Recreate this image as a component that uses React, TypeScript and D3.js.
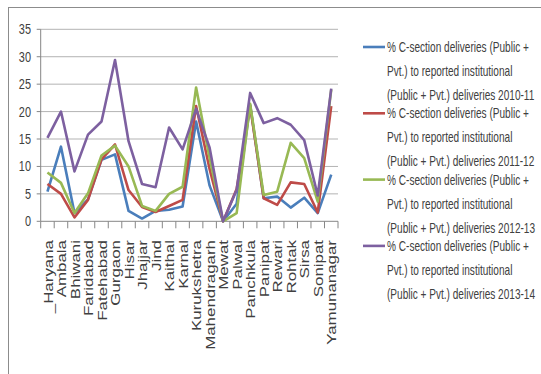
import React from "react";
import * as d3 from "d3";

const categories = ["_Haryana","Ambala","Bhiwani","Faridabad","Fatehabad","Gurgaon","Hisar","Jhajjar","Jind","Kaithal","Karnal","Kurukshetra","Mahendragarh","Mewat","Palwal","Panchkula","Panipat","Rewari","Rohtak","Sirsa","Sonipat","Yamunanagar"];

const s2010 = [5.4, 13.6, 1.5, 4.0, 11.2, 12.2, 1.9, 0.5, 1.9, 2.1, 2.7, 18.2, 6.5, 0, 3.2, 21.2, 4.2, 4.5, 2.5, 4.3, 1.5, 8.5];
const s2011 = [6.8, 5.0, 0.7, 3.9, 11.3, 14.0, 5.7, 2.6, 1.7, 2.8, 3.9, 21.0, 9.5, 0, 5.9, 21.0, 4.2, 3.0, 7.1, 6.8, 1.6, 21.0];
const s2012 = [8.9, 7.0, 1.5, 5.1, 12.0, 13.8, 10.0, 2.8, 1.9, 5.0, 6.3, 24.4, 11.5, 0, 1.5, 21.4, 4.8, 5.4, 14.3, 11.5, 3.6, 24.0];
const s2013 = [15.2, 20.0, 9.1, 15.8, 18.2, 29.4, 14.6, 6.8, 6.2, 17.1, 13.1, 20.5, 13.4, 0, 5.7, 23.4, 17.9, 18.8, 17.6, 14.8, 4.7, 24.2];

const yTicks = [0, 5, 10, 15, 20, 25, 30, 35];
const seriesYears = ["2010-11", "2011-12", "2012-13", "2013-14"];
const seriesColors = ["#4a7ebb", "#be4b48", "#98b954", "#7d60a0"];
const legendLine1 = "% C-section deliveries (Public +";
const legendLine2 = "Pvt.) to reported institutional";
const legendLine3Prefix = "(Public + Pvt.) deliveries ";

export default function App() {
  const W = 541, H = 374;
  const x0 = 40.7, x1 = 338;
  const yTop = 29.3, yBottom = 221.3;
  const x = d3.scaleBand<string>().domain(categories).range([x0, x1]).padding(0);
  const y = d3.scaleLinear().domain([0, 35]).range([yBottom, yTop]);
  const cx = (c: string) => (x(c) as number) + x.bandwidth() / 2;
  const allSeries = [s2010, s2011, s2012, s2013];
  const line = d3.line<number>().x((_, i) => cx(categories[i])).y((v) => y(v));
  const font = "'Liberation Sans', Arial, sans-serif";
  const textColor = "#404040";
  const legendScale = 0.72;

  return (
    <svg width={W} height={H} style={{ position: "absolute", left: 0, top: 0, background: "#fff" }}>
      <rect x={0} y={0} width={W} height={H} fill="#fff" />
      <rect x={8.5} y={7.5} width={620} height={400} fill="none" stroke="#8c8c8c" strokeWidth={1} />
      {yTicks.map((t) => (
        <line key={"g" + t} x1={x0} x2={x1} y1={y(t)} y2={y(t)} stroke={t === 0 ? "#868686" : "#b3b3b3"} strokeWidth={1} />
      ))}
      <line x1={x0} x2={x0} y1={yTop} y2={yBottom} stroke="#868686" />
      {yTicks.map((t) => (
        <line key={"yt" + t} x1={x0 - 4} x2={x0} y1={y(t)} y2={y(t)} stroke="#868686" />
      ))}
      {yTicks.map((t) => (
        <text key={"yl" + t} transform={`translate(31,${y(t)}) scale(0.78,1)`} textAnchor="end" dy="0.36em"
          fontFamily={font} fontSize={14} fill={textColor}>{t}</text>
      ))}
      {categories.map((c) => (
        <line key={"xt" + c} x1={x(c) as number} x2={x(c) as number} y1={yBottom} y2={yBottom + 7} stroke="#868686" />
      ))}
      <line x1={x1} x2={x1} y1={yBottom} y2={yBottom + 7} stroke="#868686" />
      {categories.map((c) => (
        <text key={"xl" + c} transform={`translate(${cx(c) + 0.5},240) rotate(-90) scale(1.3,1)`} textAnchor="end" dy="0.36em"
          fontFamily={font} fontSize={13} fill={textColor}>{c}</text>
      ))}
      {allSeries.map((s, k) => (
        <path key={"s" + k} d={line(s) || ""} fill="none" stroke={seriesColors[k]} strokeWidth={2.6} strokeLinejoin="round" />
      ))}
      {seriesYears.map((yr, k) => {
        const ly = 47 + 66.3 * k;
        return (
          <g key={"lg" + k}>
            <line x1={363} x2={385} y1={ly} y2={ly} stroke={seriesColors[k]} strokeWidth={2.6} />
            {[legendLine1, legendLine2, legendLine3Prefix + yr].map((t, j) => (
              <text key={j} transform={`translate(387,${ly + 24 * j}) scale(${legendScale},1)`} dy="0.36em"
                fontFamily={font} fontSize={14} fill={textColor}>{t}</text>
            ))}
          </g>
        );
      })}
    </svg>
  );
}
